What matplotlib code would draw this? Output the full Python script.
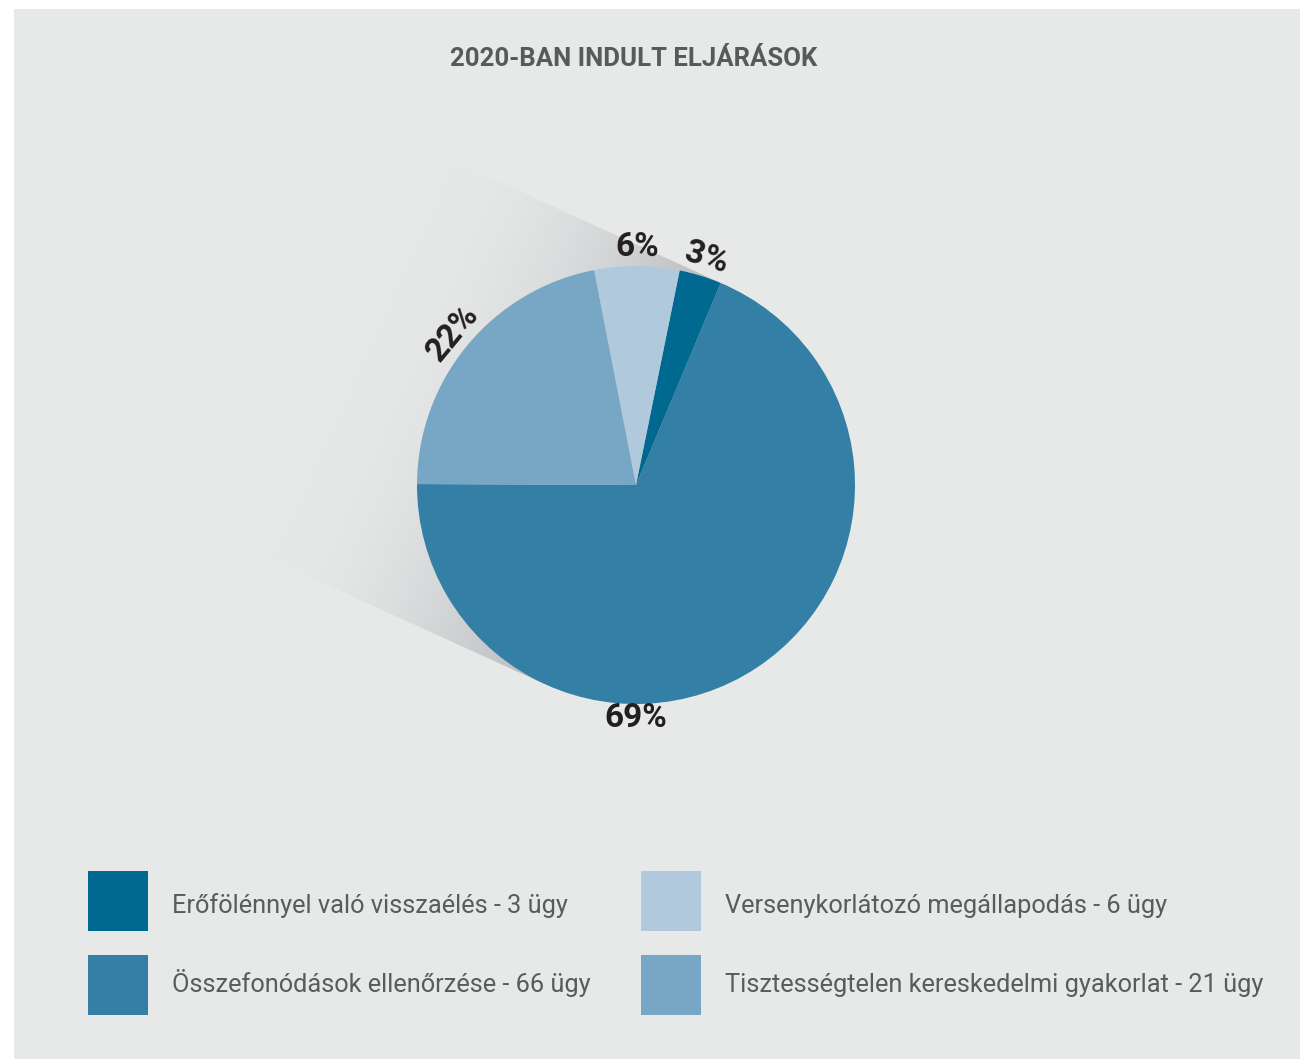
import numpy as np
import matplotlib.pyplot as plt
from matplotlib.patches import Rectangle, Polygon

# ---- data (pie order, clockwise) ----
categories = ["Erőfölénnyel való visszaélés",
              "Összefonódások ellenőrzése",
              "Tisztességtelen kereskedelmi gyakorlat",
              "Versenykorlátozó megállapodás"]
cases = [3, 66, 21, 6]
pct_labels = ["3%", "69%", "22%", "6%"]
colors = ["#006990", "#337fa5", "#78a7c5", "#b1c9dd"]
legend_order = [0, 3, 1, 2]   # row by row: (3, 6), (66, 21)
title = "2020-BAN INDULT ELJÁRÁSOK"

W, H = 1300, 1059
BG = "#e7e8e8"
TXT_FONT = ["Roboto", "DejaVu Sans"]

fig = plt.figure(figsize=(W / 100, H / 100), dpi=100, facecolor="white")
ax = fig.add_axes([0, 0, 1, 1])

# grey panel
ax.add_patch(Rectangle((14, 0), W - 14, H - 9, facecolor=BG, edgecolor="none", zorder=0))

cx, cy, R = 636, H - 485, 219

# ---- long shadow behind the pie ----
d = np.array([-0.91, 0.415])
d /= np.linalg.norm(d)
nrm = np.array([d[1], -d[0]])          # perpendicular
L = 300
c = np.array([cx, cy])
A, B = c + R * nrm, c - R * nrm
poly = Polygon([A, A + L * d, B + L * d, B], closed=True, facecolor="none",
               edgecolor="none", transform=ax.transData)
ax.add_patch(poly)
xs = np.arange(150, 820)
ys = np.arange(300, 1000)
X, Y = np.meshgrid(xs, ys)
t = (X - cx) * d[0] + (Y - cy) * d[1]
a = np.clip(1 - t / L, 0, 1) ** 1.8
bg = np.array([231, 232, 232]) / 255
dark = np.array([182, 183, 187]) / 255
img = bg[None, None, :] * (1 - a[..., None]) + dark[None, None, :] * a[..., None]
im = ax.imshow(img, extent=[xs[0], xs[-1], ys[0], ys[-1]], origin="lower",
               interpolation="bilinear", zorder=1, aspect="auto")
im.set_clip_path(poly)

# ---- pie ----
wedges, _ = ax.pie(cases, colors=colors, startangle=78.5, counterclock=False,
                   center=(cx, cy), radius=R, wedgeprops=dict(linewidth=0))
for w in wedges:
    w.set_zorder(2)

r_lab = 238
biggest = int(np.argmax(cases))
for i, w in enumerate(wedges):
    mid = (w.theta1 + w.theta2) / 2
    rot = mid - 90
    if i == biggest:
        mid, rot = -90, 0
        rl = r_lab - 5
    else:
        rl = r_lab
    x = cx + rl * np.cos(np.radians(mid))
    y = cy + rl * np.sin(np.radians(mid))
    ax.text(x, y, pct_labels[i], ha="center", va="center", rotation=rot,
            rotation_mode="anchor", fontsize=24, fontweight="bold",
            color="#231f20", family=TXT_FONT, zorder=3)

# ---- title ----
ax.text(634, H - 59, title, ha="center", va="center", fontsize=18.5,
        fontweight="bold", color="#58595b", family=TXT_FONT)

# ---- legend (2 x 2 grid) ----
col_x = [88, 641]
row_y = [H - 931, H - 1015]
text_base = [H - 913, H - 992]
sq = 60
for k, idx in enumerate(legend_order):
    r, cc = divmod(k, 2)
    x0, y0 = col_x[cc], row_y[r]
    ax.add_patch(Rectangle((x0, y0), sq, sq, facecolor=colors[idx],
                           edgecolor="none", zorder=2))
    ax.text(x0 + 84, text_base[r], f"{categories[idx]} - {cases[idx]} ügy",
            ha="left", va="baseline", fontsize=18.3, color="#5a5b5d",
            family=TXT_FONT)

ax.set_xlim(0, W)
ax.set_ylim(0, H)
ax.set_aspect("auto")
ax.axis("off")

fig.savefig("out.png", dpi=100, facecolor="white")
